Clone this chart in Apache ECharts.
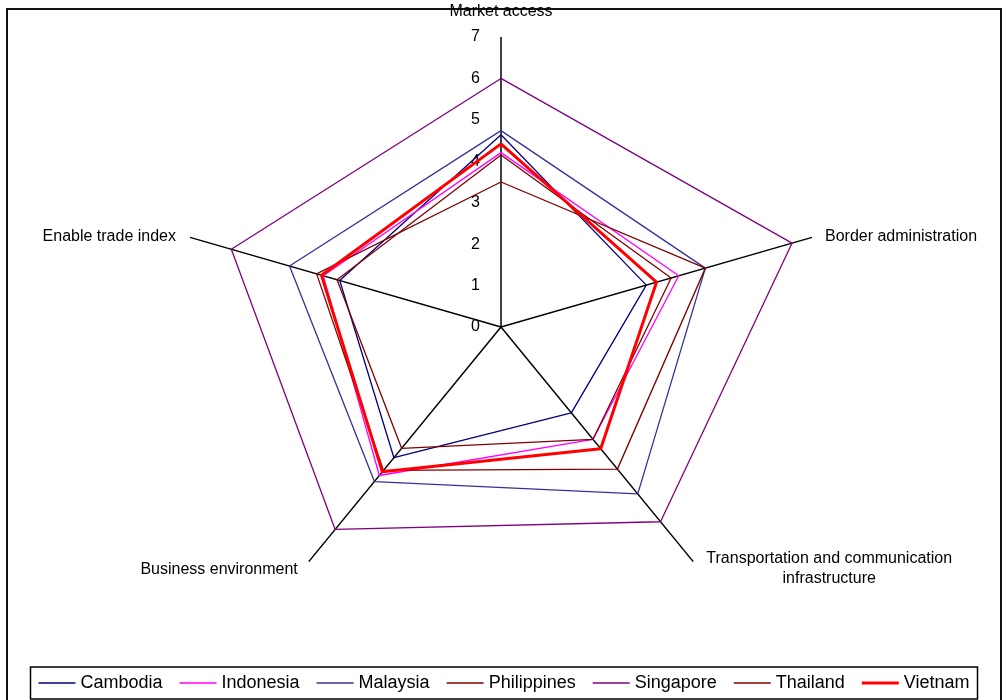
<!DOCTYPE html>
<html><head><meta charset="utf-8">
<script src="https://cdn.jsdelivr.net/npm/echarts@6/dist/echarts.min.js"></script>
<style>html,body{margin:0;padding:0;background:#fff}#c{width:1008px;height:700px}</style>
</head><body><div id="c"></div>
<script>
// ---- data ----
const indicators = ['Market access', 'Border administration', 'Transportation and communication\ninfrastructure', 'Business environment', 'Enable trade index'];
const axisMax = 7;
const tickLabels = ['0', '1', '2', '3', '4', '5', '6', '7'];
const countries = ['Cambodia', 'Indonesia', 'Malaysia', 'Philippines', 'Singapore', 'Thailand', 'Vietnam'];
const cambodia    = [4.64, 3.27, 2.56, 3.90, 3.63];
const indonesia   = [4.21, 4.00, 3.35, 4.43, 4.00];
const malaysia    = [4.74, 4.60, 4.98, 4.61, 4.76];
const philippines = [4.15, 3.83, 3.35, 3.62, 3.69];
const singapore   = [6.00, 6.55, 5.81, 6.04, 6.07];
const thailand    = [3.50, 4.60, 4.24, 4.28, 4.15];
const vietnam     = [4.42, 3.50, 3.63, 4.32, 4.04];

// ---- styles ----
const seriesValues = [cambodia, indonesia, malaysia, philippines, singapore, thailand, vietnam];
const colors = ['#000080', '#FF00FF', '#333399', '#800000', '#800080', '#800000', '#FF0000'];
const widths = [1.3, 1.3, 1.3, 1.3, 1.3, 1.3, 3];
const FONT = "'Liberation Sans', Arial, sans-serif";

// spoke direction for axis i (first axis straight up, clockwise)
function polarToXY(v, i) {
  const a = (90 - 72 * i) * Math.PI / 180;
  return [v * Math.cos(a), v * Math.sin(a)];
}

const series = [];
// spokes
indicators.forEach((name, i) => {
  series.push({
    type: 'line', silent: true, symbol: 'none', z: 1,
    data: [[0, 0], polarToXY(axisMax, i)],
    lineStyle: { color: '#000', width: 1.5, opacity: 1 }
  });
});
// axis name labels
const labelCfg = [
  { position: [0, -25], align: 'center', verticalAlign: 'middle' },
  { position: [13, -1], align: 'left', verticalAlign: 'middle' },
  { position: [136, 7], align: 'center', verticalAlign: 'middle', lineHeight: 20 },
  { position: [-11, 8], align: 'right', verticalAlign: 'middle' },
  { position: [-14, -1], align: 'right', verticalAlign: 'middle' }
];
series.push({
  type: 'scatter', silent: true, symbolSize: 0, z: 2,
  data: indicators.map((name, i) => ({
    value: polarToXY(axisMax, i), name: name,
    label: Object.assign({ show: true, formatter: '{b}', color: '#000', opacity: 1, fontSize: 16, fontFamily: FONT }, labelCfg[i])
  }))
});
// countries
countries.forEach((name, k) => {
  const pts = seriesValues[k].map((v, i) => polarToXY(v, i));
  pts.push(pts[0]);
  series.push({
    name: name, type: 'line', symbol: 'none', z: 3,
    data: pts,
    itemStyle: { color: colors[k] },
    lineStyle: { color: colors[k], width: widths[k] }
  });
});

const thinIcon = 'path://M0,0M0,10M0,4.25L40,4.25L40,5.75L0,5.75Z';
const thickIcon = 'path://M0,0M0,10M0,3.5L40,3.5L40,6.5L0,6.5Z';

const chart = echarts.init(document.getElementById('c'), null, { renderer: 'canvas' });
chart.setOption({
  animation: false,
  backgroundColor: '#fff',
  grid: { left: 174, right: 180, top: 37, bottom: 124.4, containLabel: false, outerBoundsMode: 'none' },
  xAxis: {
    type: 'value', min: -7, max: 7, show: false,
    axisLine: { onZero: false }, splitLine: { show: false }
  },
  yAxis: {
    type: 'value', min: -6, max: 7, interval: 1,
    position: 'left', offset: -327,
    axisLine: { show: false, onZero: false },
    axisTick: { show: false }, splitLine: { show: false },
    axisLabel: {
      margin: 21, color: '#000', fontSize: 16, fontFamily: FONT,
      formatter: v => (v >= 0 ? tickLabels[Math.round(v)] : '')
    }
  },
  legend: {
    data: countries.map(n => ({ name: n, icon: n === 'Vietnam' ? thickIcon : thinIcon })),
    left: 'center', top: 667, orient: 'horizontal',
    itemWidth: 37, itemHeight: 10, itemGap: 17,
    padding: [7, 8], borderColor: '#000', borderWidth: 1.5,
    textStyle: { fontSize: 18, color: '#000', fontFamily: FONT },
    selectedMode: false
  },
  graphic: [{
    type: 'rect', silent: true, z: -10,
    shape: { x: 7, y: 9, width: 994, height: 700 },
    style: { fill: 'none', stroke: '#111', lineWidth: 2 }
  }],
  series: series
});
</script></body></html>
